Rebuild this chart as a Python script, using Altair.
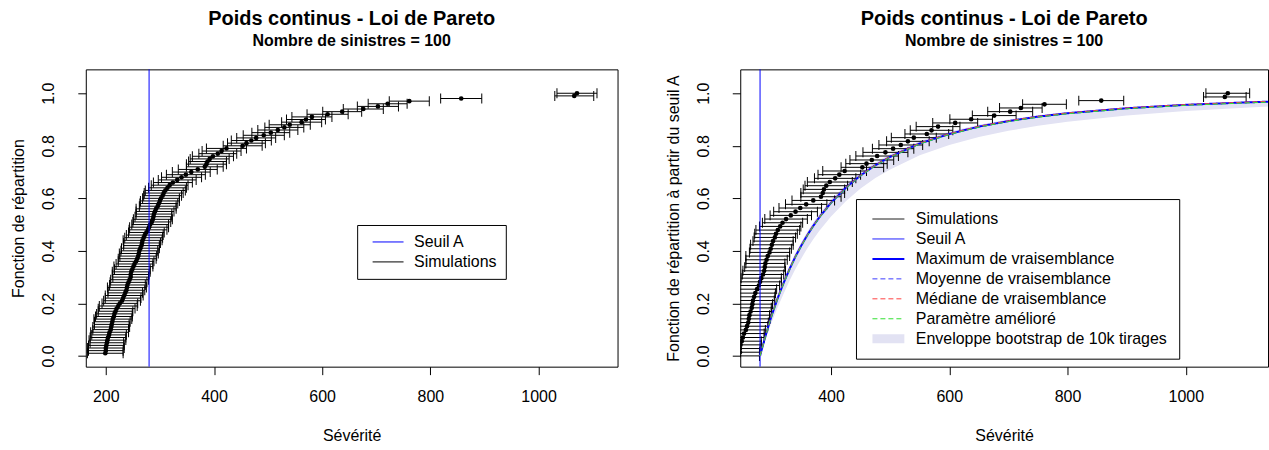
import altair as alt
import pandas as pd

FONT = "Liberation Sans"

# ---------------- data ----------------
# simulated severities (dots), left panel
severite = [199, 200, 200, 201, 202, 203, 204, 206, 207, 209,
            210, 211, 212, 213, 215, 216, 218, 220, 223, 226,
            230, 232, 234, 236, 238, 239, 240, 242, 244, 246,
            246, 247, 249, 251, 253, 256, 258, 260, 261, 262,
            264, 266, 267, 268, 270, 272, 275, 278, 280, 282,
            285, 287, 288, 289, 291, 293, 296, 298, 300, 302,
            305, 307, 310, 314, 318, 324, 332, 340, 348, 358,
            370, 383, 386, 388, 392, 398, 407, 414, 423, 453,
            460, 469, 478, 492, 505, 518, 530, 540, 562, 570,
            581, 610, 637, 676, 703, 721, 761, 857, 1066, 1071]

# half-width of horizontal error bars
demi_largeur = [33, 32, 34, 33, 31, 34, 33, 32, 35, 33,
                34, 32, 33, 35, 34, 33, 32, 34, 35, 33,
                34, 33, 35, 32, 34, 36, 33, 34, 35, 33,
                34, 35, 33, 36, 34, 33, 35, 34, 36, 34,
                35, 33, 34, 36, 35, 34, 33, 35, 36, 34,
                35, 36, 34, 33, 35, 37, 34, 35, 36, 34,
                35, 36, 37, 35, 34, 36, 35, 37, 36, 35,
                36, 34, 37, 35, 36, 38, 35, 36, 37, 36,
                35, 37, 36, 38, 35, 37, 36, 38, 37, 36,
                37, 38, 36, 37, 38, 36, 37, 38, 36, 37]

# empirical distribution function (left panel)
repartition = [0.01, 0.02, 0.03, 0.04, 0.05, 0.06, 0.07, 0.08, 0.09, 0.10,
               0.11, 0.12, 0.13, 0.14, 0.15, 0.16, 0.17, 0.18, 0.19, 0.20,
               0.21, 0.22, 0.23, 0.24, 0.25, 0.26, 0.27, 0.28, 0.29, 0.30,
               0.31, 0.32, 0.33, 0.34, 0.35, 0.36, 0.37, 0.38, 0.39, 0.40,
               0.41, 0.42, 0.43, 0.44, 0.45, 0.46, 0.47, 0.48, 0.49, 0.50,
               0.51, 0.52, 0.53, 0.54, 0.55, 0.56, 0.57, 0.58, 0.59, 0.60,
               0.61, 0.62, 0.63, 0.64, 0.65, 0.66, 0.67, 0.68, 0.69, 0.70,
               0.71, 0.72, 0.73, 0.74, 0.75, 0.76, 0.77, 0.78, 0.79, 0.80,
               0.81, 0.82, 0.83, 0.84, 0.85, 0.86, 0.87, 0.88, 0.89, 0.90,
               0.91, 0.92, 0.93, 0.94, 0.95, 0.96, 0.97, 0.98, 0.99, 1.00]

# distribution function from threshold A (right panel), dots 29..100
repartition_seuil = [0.000, 0.014, 0.028, 0.042, 0.056, 0.070, 0.085, 0.099, 0.113, 0.127,
                     0.141, 0.155, 0.169, 0.183, 0.197, 0.211, 0.225, 0.239, 0.254, 0.268,
                     0.282, 0.296, 0.310, 0.324, 0.338, 0.352, 0.366, 0.380, 0.394, 0.408,
                     0.423, 0.437, 0.451, 0.465, 0.479, 0.493, 0.507, 0.521, 0.535, 0.549,
                     0.563, 0.577, 0.592, 0.606, 0.620, 0.634, 0.648, 0.662, 0.676, 0.690,
                     0.704, 0.718, 0.732, 0.746, 0.761, 0.775, 0.789, 0.803, 0.817, 0.831,
                     0.845, 0.859, 0.873, 0.887, 0.901, 0.915, 0.930, 0.944, 0.958, 0.972,
                     0.986, 1.000]

seuil_A = 280

# fitted curves (right panel)
x_courbe = [280, 285, 290, 295, 300, 310, 320, 330, 340, 350, 360, 370, 380, 400,
            425, 450, 475, 500, 550, 600, 650, 700, 750, 800, 900, 1000, 1100, 1139]
max_vrais = [0, .042, .082, .120, .156, .221, .279, .331, .379, .421, .460, .495, .527, .583,
             .640, .687, .726, .758, .809, .845, .873, .894, .911, .924, .943, .956, .965, .968]
moy_vrais = [0, .041, .081, .119, .155, .220, .278, .330, .378, .420, .459, .494, .526, .582,
             .639, .686, .725, .757, .808, .844, .872, .893, .910, .923, .942, .955, .964, .967]
med_vrais = [0, .042, .082, .121, .157, .222, .280, .332, .380, .422, .461, .496, .528, .584,
             .641, .688, .727, .759, .810, .846, .874, .895, .912, .925, .944, .957, .966, .969]
param_ameliore = [0, .040, .080, .118, .154, .219, .277, .329, .377, .419, .458, .493, .525, .581,
                  .638, .685, .724, .756, .807, .843, .871, .892, .909, .922, .941, .954, .963, .966]
env_bas = [0, .033, .066, .100, .130, .186, .238, .287, .332, .372, .410, .444, .476, .531,
           .589, .637, .677, .710, .764, .803, .833, .857, .876, .892, .915, .932, .945, .950]
env_haut = [0, .047, .090, .130, .167, .233, .292, .344, .392, .434, .473, .508, .540, .596,
            .652, .699, .737, .768, .818, .853, .880, .900, .916, .929, .947, .959, .968, .971]

titre = "Poids continus - Loi de Pareto"
sous_titre = "Nombre de sinistres = 100"
ticks_x = [200, 400, 600, 800, 1000]
ticks_y = [0.0, 0.2, 0.4, 0.6, 0.8, 1.0]

# ---------------- tables ----------------
sim = pd.DataFrame({"sev": severite, "F": repartition,
                    "lo": [s - d for s, d in zip(severite, demi_largeur)],
                    "hi": [s + d for s, d in zip(severite, demi_largeur)]})
sim_r = pd.DataFrame({"sev": severite[28:], "F": repartition_seuil,
                      "lo": [s - d for s, d in zip(severite[28:], demi_largeur[28:])],
                      "hi": [s + d for s, d in zip(severite[28:], demi_largeur[28:])]})

noms = ["Simulations", "Seuil A", "Maximum de vraisemblance", "Moyenne de vraisemblance",
        "Médiane de vraisemblance", "Paramètre amélioré", "Enveloppe bootstrap de 10k tirages"]
courbes = pd.concat([
    pd.DataFrame({"xc": x_courbe, "F": max_vrais, "serie": noms[2]}),
    pd.DataFrame({"xc": x_courbe, "F": moy_vrais, "serie": noms[3]}),
    pd.DataFrame({"xc": x_courbe, "F": med_vrais, "serie": noms[4]}),
    pd.DataFrame({"xc": x_courbe, "F": param_ameliore, "serie": noms[5]}),
])
enveloppe = pd.DataFrame({"xc": x_courbe, "bas": env_bas, "haut": env_haut})

# ---------------- scales / axes ----------------
ys = alt.Scale(domain=[-0.041, 1.091], nice=False, zero=False)
xs_l = alt.Scale(domain=[163, 1146], nice=False, zero=False)
xs_r = alt.Scale(domain=[246.5, 1139], nice=False, zero=False)

txt = dict(labelFont=FONT, titleFont=FONT, labelFontSize=16, titleFontSize=16,
           titleFontWeight="normal", labelColor="black", titleColor="black",
           tickColor="black", grid=False, domain=False, tickSize=8)

xaxis = alt.Axis(title="Sévérité", values=ticks_x, format="d", labelPadding=14,
                 titlePadding=23, labelFlush=False, labelOverlap=False, **txt)


def yaxis(t):
    return alt.Axis(title=t, values=ticks_y, format=".1f", labelAngle=-90,
                    labelAlign="center", labelBaseline="bottom", labelPadding=21,
                    titlePadding=14, labelFlush=False, labelOverlap=False, **txt)


def sim_layers(df, xs, ya):
    base = alt.Chart(df)
    Y = alt.Y("F:Q", scale=ys, axis=ya)
    bars = base.mark_rule(color="black", strokeWidth=1, clip=True).encode(
        x=alt.X("lo:Q", scale=xs, axis=xaxis), x2=alt.X2("hi:Q"), y=Y)
    cap_lo = base.mark_tick(orient="vertical", color="black", size=10, thickness=1,
                            opacity=1, clip=True).encode(
        x=alt.X("lo:Q", scale=xs, axis=xaxis), y=Y)
    cap_hi = base.mark_tick(orient="vertical", color="black", size=10, thickness=1,
                            opacity=1, clip=True).encode(
        x=alt.X("hi:Q", scale=xs, axis=xaxis), y=Y)
    pts = base.mark_circle(color="black", size=22, opacity=1, clip=True).encode(
        x=alt.X("sev:Q", scale=xs, axis=xaxis), y=Y)
    return [bars, cap_lo, cap_hi, pts]


def titre_params():
    return alt.TitleParams(text=titre, subtitle=sous_titre, font=FONT, subtitleFont=FONT,
                           fontSize=20, subtitleFontSize=16, fontWeight="bold",
                           subtitleFontWeight="bold", color="black", subtitleColor="black",
                           anchor="middle", frame="group", offset=20, subtitlePadding=4)


leg_common = dict(title=None, orient="none", symbolType="stroke", clipHeight=16,
                  labelFont=FONT, labelFontSize=16, labelColor="black", labelLimit=600,
                  strokeColor="black", fillColor="white")

# ---------------- left panel ----------------
ya_l = yaxis("Fonction de répartition")
seuil_l = alt.Chart(pd.DataFrame({"seuil": [seuil_A], "serie": ["Seuil A"]})).mark_rule(
    strokeWidth=1).encode(
    x=alt.X("seuil:Q", scale=xs_l, axis=xaxis),
    color=alt.Color("serie:N",
                    scale=alt.Scale(domain=["Seuil A", "Simulations"], range=["blue", "black"]),
                    legend=alt.Legend(legendX=272, legendY=156, symbolSize=961,
                                      symbolStrokeWidth=1, symbolOffset=6, labelOffset=10,
                                      padding=9, rowPadding=4, **leg_common)))
left = alt.layer(*sim_layers(sim, xs_l, ya_l), seuil_l).properties(
    width=533, height=298, title=titre_params())

# ---------------- right panel ----------------
ya_r = yaxis("Fonction de répartition à partir du seuil A")
band = alt.Chart(enveloppe).mark_area(color="#e2e2f3", opacity=1, clip=True).encode(
    x=alt.X("xc:Q", scale=xs_r, axis=xaxis),
    y=alt.Y("bas:Q", scale=ys, axis=ya_r), y2=alt.Y2("haut:Q"))
seuil_r = alt.Chart(pd.DataFrame({"seuil": [seuil_A]})).mark_rule(
    color="blue", strokeWidth=1).encode(x=alt.X("seuil:Q", scale=xs_r, axis=xaxis))

leg_r = alt.Legend(legendX=116, legendY=130, symbolSize=1024, symbolOffset=0, labelOffset=7,
                   padding=12, rowPadding=4, **leg_common)
curves = alt.Chart(courbes).mark_line(clip=True, strokeCap="butt").encode(
    x=alt.X("xc:Q", scale=xs_r, axis=xaxis),
    y=alt.Y("F:Q", scale=ys, axis=ya_r),
    color=alt.Color("serie:N", sort=noms, legend=leg_r,
                    scale=alt.Scale(domain=noms,
                                    range=["black", "blue", "blue", "#3b3bff", "#ff4040",
                                           "#30e030", "#e2e2f3"])),
    strokeDash=alt.StrokeDash("serie:N", sort=noms, legend=leg_r,
                              scale=alt.Scale(domain=noms,
                                              range=[[1, 0], [1, 0], [1, 0], [5, 3], [5, 3],
                                                     [5, 3], [1, 0]])),
    strokeWidth=alt.StrokeWidth("serie:N", sort=noms, legend=leg_r,
                                scale=alt.Scale(type="ordinal", domain=noms,
                                                range=[1, 1, 2, 1, 1, 1, 9])),
)
right = alt.layer(band, *sim_layers(sim_r, xs_r, ya_r), seuil_r, curves).properties(
    width=529, height=298, title=titre_params())

chart = alt.hconcat(left, right, spacing=46).resolve_scale(
    color="independent", strokeDash="independent", strokeWidth="independent"
).resolve_legend(color="independent").properties(
    padding={"left": 10, "top": 8, "right": 0, "bottom": 0}, background="white"
).configure_view(stroke="black", strokeWidth=1)

chart.save("out.html", embed_options={"renderer": "svg", "actions": False})
